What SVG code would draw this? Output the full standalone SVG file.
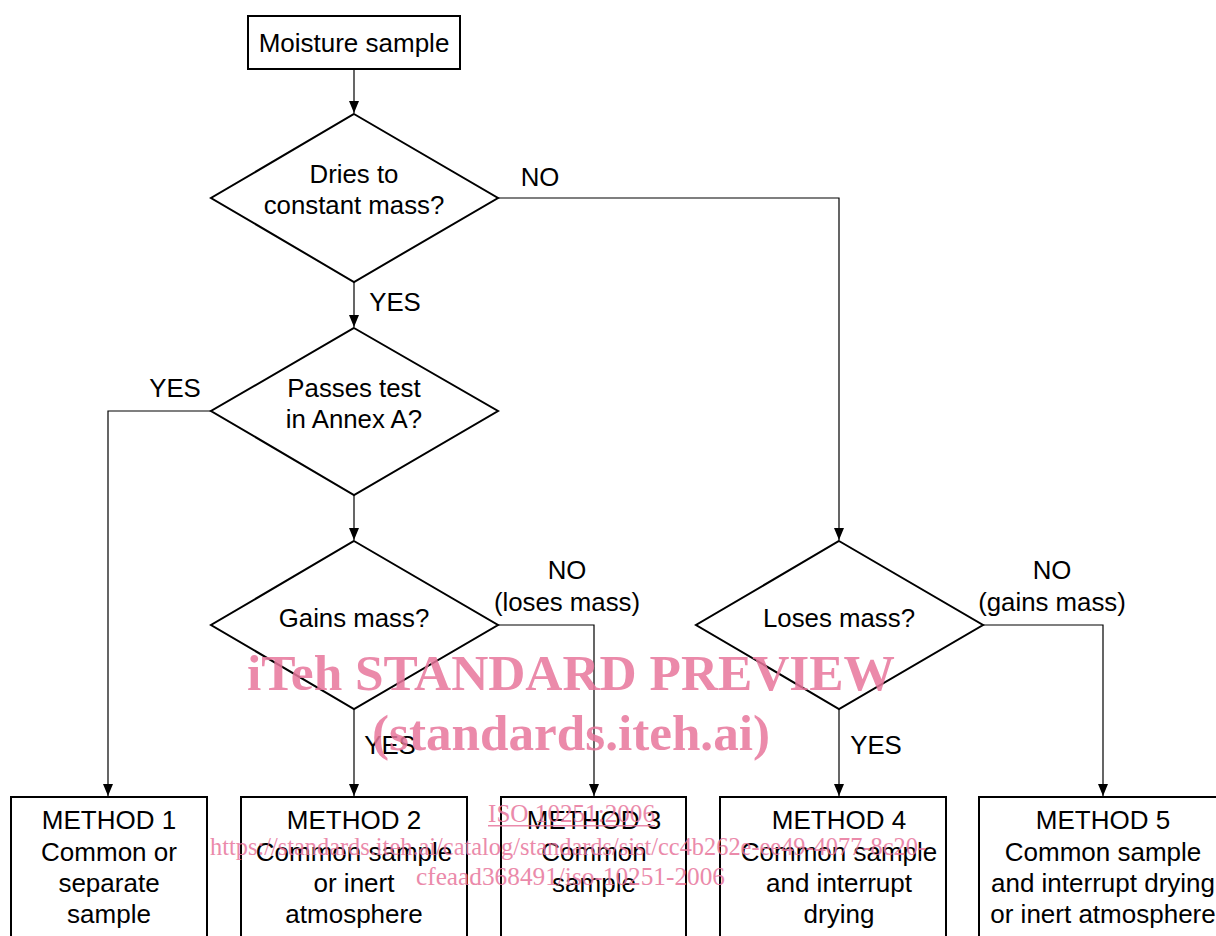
<svg xmlns="http://www.w3.org/2000/svg" width="1216" height="936" viewBox="0 0 1216 936">
<style>
.n{fill:#fff;stroke:#000;stroke-width:2}
.t{font-family:"Liberation Sans",Arial,sans-serif;font-size:25.8px;fill:#000;text-anchor:middle}
.b{font-family:"Liberation Sans",Arial,sans-serif;font-size:26px;fill:#000;text-anchor:middle}
.c{fill:none;stroke:#000;stroke-width:1.2}
.w{font-family:"Liberation Serif","Times New Roman",serif;fill:#e8769c;opacity:0.85}
</style>
<defs>
<marker id="ah" markerWidth="12" markerHeight="16" refX="12" refY="5" orient="auto" markerUnits="userSpaceOnUse" viewBox="0 0 12 10">
<path d="M0,0 L12,5 L0,10 Z" fill="#000"/>
</marker>
</defs>
<rect width="1216" height="936" fill="#fff"/>
<g id="connectors">
<path class="c" d="M354,69 V113" marker-end="url(#ah)"/>
<path class="c" d="M354,282 V327" marker-end="url(#ah)"/>
<path class="c" d="M354,495 V540" marker-end="url(#ah)"/>
<path class="c" d="M354,709 V796" marker-end="url(#ah)"/>
<path class="c" d="M498,198 H839 V540" marker-end="url(#ah)"/>
<path class="c" d="M211,411 H108 V796" marker-end="url(#ah)"/>
<path class="c" d="M498,625 H594 V796" marker-end="url(#ah)"/>
<path class="c" d="M839,709 V796" marker-end="url(#ah)"/>
<path class="c" d="M983,625 H1103 V796" marker-end="url(#ah)"/>
<text class="t" x="540" y="186">NO</text>
<text class="t" x="395" y="311">YES</text>
<text class="t" x="175" y="397">YES</text>
<text class="t" x="390" y="754">YES</text>
<text class="t" x="876" y="754">YES</text>
<text class="t" x="567" y="579">NO</text>
<text class="t" x="567" y="611">(loses mass)</text>
<text class="t" x="1052" y="579">NO</text>
<text class="t" x="1052" y="611">(gains mass)</text>
</g>
<g id="start">
<rect class="n" x="248" y="16" width="212" height="53"/>
<text class="b" x="354" y="52">Moisture sample</text>
</g>
<g id="d1">
<polygon class="n" points="354,114 498,198 354,282 211,198"/>
<text class="t" x="354" y="183">Dries to</text>
<text class="t" x="354" y="214">constant mass?</text>
</g>
<g id="d2">
<polygon class="n" points="354,328 498,411 354,495 211,411"/>
<text class="t" x="354" y="397">Passes test</text>
<text class="t" x="354" y="428">in Annex A?</text>
</g>
<g id="d3">
<polygon class="n" points="354,541 498,625 354,709 211,625"/>
<text class="t" x="354" y="627">Gains mass?</text>
</g>
<g id="d4">
<polygon class="n" points="839,541 983,625 839,709 696,625"/>
<text class="t" x="839" y="627">Loses mass?</text>
</g>
<g id="m1">
<rect class="n" x="11" y="797" width="196" height="150"/>
<text class="b" x="109" y="829">METHOD 1</text>
<text class="b" x="109" y="861">Common or</text>
<text class="b" x="109" y="892">separate</text>
<text class="b" x="109" y="923">sample</text>
</g>
<g id="m2">
<rect class="n" x="241" y="797" width="226" height="150"/>
<text class="b" x="354" y="829">METHOD 2</text>
<text class="b" x="354" y="861">Common sample</text>
<text class="b" x="354" y="892">or inert</text>
<text class="b" x="354" y="923">atmosphere</text>
</g>
<g id="m3">
<rect class="n" x="501" y="797" width="185" height="150"/>
<text class="b" x="594" y="829">METHOD 3</text>
<text class="b" x="594" y="861">Common</text>
<text class="b" x="594" y="892">sample</text>
</g>
<g id="m4">
<rect class="n" x="720" y="797" width="226" height="150"/>
<text class="b" x="839" y="829">METHOD 4</text>
<text class="b" x="839" y="861">Common sample</text>
<text class="b" x="839" y="892">and interrupt</text>
<text class="b" x="839" y="923">drying</text>
</g>
<g id="m5">
<rect class="n" x="979" y="797" width="260" height="150"/>
<text class="b" x="1103" y="829">METHOD 5</text>
<text class="b" x="1103" y="861">Common sample</text>
<text class="b" x="1103" y="892">and interrupt drying</text>
<text class="b" x="1103" y="923">or inert atmosphere</text>
</g>
<g id="watermark">
<text class="w" x="247" y="690" font-size="51" font-weight="bold" textLength="648" lengthAdjust="spacingAndGlyphs">iTeh STANDARD PREVIEW</text>
<text class="w" x="372" y="750" font-size="51" font-weight="bold" textLength="398" lengthAdjust="spacingAndGlyphs">(standards.iteh.ai)</text>
<text class="w" x="488" y="822" font-size="26" textLength="167" lengthAdjust="spacingAndGlyphs">ISO 10251:2006</text>
<rect x="488" y="825" width="167" height="1.5" fill="#e8769c" opacity="0.85"/>
<text class="w" x="210" y="855" font-size="26" textLength="716" lengthAdjust="spacingAndGlyphs">https://standards.iteh.ai/catalog/standards/sist/cc4b262e-ee49-4077-8c20-</text>
<text class="w" x="416" y="885" font-size="26" textLength="309" lengthAdjust="spacingAndGlyphs">cfeaad368491/iso-10251-2006</text>
</g>
</svg>
